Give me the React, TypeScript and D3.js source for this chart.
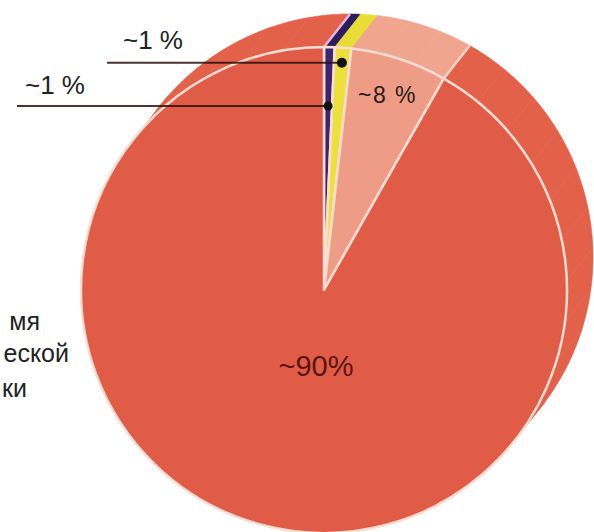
import React from "react";
import * as d3 from "d3";

// ---- data ----
const categories = ["Сегмент A", "Сегмент B", "Сегмент C", "Сегмент D"];
const values = [0.7, 1.1, 6.4, 91.8];
const sliceLabels = ["~1 %", "~1 %", "~8 %", "~90%"];
const faceColors = ["#3B2572", "#ECE03A", "url(#salmonGrad)", "#E05C47"];
const wallColors = ["#2F1C60", "#E8DC34", "#F0A58F", "#E3604A"];
const leftLabelFragments = ["мя", "еской", "ки"];

const W = 594;
const H = 532;

export default function App() {
  const cx = 324;
  const cy = 290;
  const R = 243;
  const depth = { x: 26, y: -33 };

  const pie = d3
    .pie<number>()
    .sort(null)
    .startAngle(0)
    .endAngle(2 * Math.PI)
    .value((d) => d);
  const arcs = pie(values);
  const arcGen = d3.arc<d3.PieArcDatum<number>>().innerRadius(0).outerRadius(R);

  const pt = (a: number, r: number, off = false) => [
    cx + r * Math.sin(a) + (off ? depth.x : 0),
    cy - r * Math.cos(a) + (off ? depth.y : 0),
  ] as [number, number];

  // wall polygons (outer side of the extruded pie)
  const walls: { d: string; color: string }[] = [];
  const line = d3.line<[number, number]>().curve(d3.curveLinearClosed);
  arcs.forEach((a, i) => {
    const span = a.endAngle - a.startAngle;
    const chunks = Math.max(1, Math.ceil(span / (Math.PI / 18)));
    for (let c = 0; c < chunks; c++) {
      const a0 = a.startAngle + (span * c) / chunks;
      const a1 = a.startAngle + (span * (c + 1)) / chunks;
      const n = 12;
      const pts: [number, number][] = [];
      for (let k = 0; k <= n; k++) pts.push(pt(a0 + ((a1 - a0) * k) / n, R));
      for (let k = n; k >= 0; k--) pts.push(pt(a0 + ((a1 - a0) * k) / n, R, true));
      walls.push({ d: line(pts) || "", color: wallColors[i] });
    }
  });

  // side edge lines at slice boundaries that face the viewer
  const edgeAngles = [arcs[0].startAngle, arcs[2].endAngle];
  const edgeColors = ["#E7B6DA", "#F8D6CA"];

  // leader dots
  const yellowMid = (arcs[1].startAngle + arcs[1].endAngle) / 2;
  const purpleMid = (arcs[0].startAngle + arcs[0].endAngle) / 2;
  const dotY = pt(yellowMid, 228);
  const dotP = pt(purpleMid, 184);

  const font = "'Liberation Sans', Arial, sans-serif";

  return (
    <svg
      width={W}
      height={H}
      viewBox={`0 0 ${W} ${H}`}
      style={{ position: "absolute", left: 0, top: 0, background: "#fff" }}
    >
      <defs>
        <radialGradient id="salmonGrad" gradientUnits="userSpaceOnUse" cx={cx} cy={cy} r={R}>
          <stop offset="0" stopColor="#F9E1D8" />
          <stop offset="0.45" stopColor="#F2B6A3" />
          <stop offset="1" stopColor="#EE9C86" />
        </radialGradient>
        <filter id="soft" x="-5%" y="-5%" width="110%" height="110%">
          <feGaussianBlur stdDeviation="0.7" />
        </filter>
      </defs>

      <g filter="url(#soft)">
        {walls.map((w, i) => (
          <path key={"w" + i} d={w.d} fill={w.color} stroke={w.color} strokeWidth={0.6} />
        ))}
        {edgeAngles.map((a, i) => {
          const p0 = pt(a, R);
          const p1 = pt(a, R, true);
          return (
            <line
              key={"e" + i}
              x1={p0[0]}
              y1={p0[1]}
              x2={p1[0]}
              y2={p1[1]}
              stroke={edgeColors[i]}
              strokeWidth={2.5}
            />
          );
        })}
        <g transform={`translate(${cx},${cy})`}>
          {arcs.map((a, i) => (
            <path
              key={categories[i]}
              d={arcGen(a) || ""}
              fill={faceColors[i]}
              stroke="#FBDDD3"
              strokeWidth={2.5}
              strokeLinejoin="round"
            />
          ))}
        </g>
      </g>

      {/* leader lines */}
      <line x1={107} y1={dotY[1]} x2={dotY[0]} y2={dotY[1]} stroke="#2a1010" strokeWidth={2} opacity={0.85} />
      <circle cx={dotY[0]} cy={dotY[1]} r={5} fill="#111" />
      <line x1={17} y1={dotP[1]} x2={dotP[0]} y2={dotP[1]} stroke="#2a1010" strokeWidth={2} opacity={0.85} />
      <circle cx={dotP[0]} cy={dotP[1]} r={4.5} fill="#111" />

      {/* slice labels */}
      <text x={123} y={49} fontFamily={font} fontSize={26} fill="#222">
        {sliceLabels[1]}
      </text>
      <text x={25} y={94} fontFamily={font} fontSize={26} fill="#222">
        {sliceLabels[0]}
      </text>
      <text x={358} y={103} fontFamily={font} fontSize={23} letterSpacing={1.5} fill="#2a1a1a">
        {sliceLabels[2]}
      </text>
      <text x={316} y={376} fontFamily={font} fontSize={29} textAnchor="middle" fill="#5a1414">
        {sliceLabels[3]}
      </text>

      {/* clipped left label */}
      <text x={40} y={330} fontFamily={font} fontSize={25} textAnchor="end" fill="#222">
        {leftLabelFragments[0]}
      </text>
      <text x={69} y={362} fontFamily={font} fontSize={25} textAnchor="end" fill="#222">
        {leftLabelFragments[1]}
      </text>
      <text x={27} y={397} fontFamily={font} fontSize={25} textAnchor="end" fill="#222">
        {leftLabelFragments[2]}
      </text>
    </svg>
  );
}
